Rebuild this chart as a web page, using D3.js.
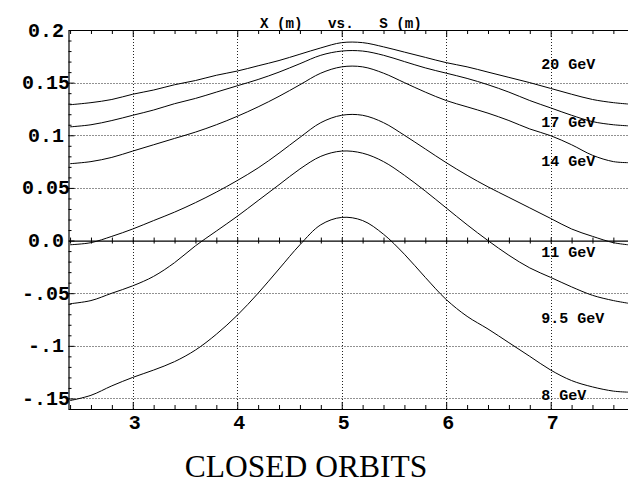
<!DOCTYPE html>
<html>
<head>
<meta charset="utf-8">
<script src="https://cdn.jsdelivr.net/npm/d3@7"></script>
<style>
  html, body { margin: 0; padding: 0; background: #fff; }
  svg { display: block; }
  .mono { font-family: "Liberation Mono", "DejaVu Sans Mono", monospace; font-weight: bold; }
</style>
</head>
<body>
<svg id="chart" width="628" height="485"></svg>
<script>
// Position along the ring, S (m)
const sPos = [2.4, 2.6, 2.8, 3.0, 3.2, 3.4, 3.6, 3.8, 4.0, 4.2, 4.4, 4.6, 4.8, 5.0,
              5.2, 5.4, 5.6, 5.8, 6.0, 6.2, 6.4, 6.6, 6.8, 7.0, 7.2, 7.4, 7.6, 7.74];

// Closed-orbit displacement X (m) for each beam energy
const orbit20 = [0.129, 0.131, 0.134, 0.139, 0.143, 0.148, 0.152, 0.157, 0.161, 0.166, 0.171, 0.177, 0.183, 0.188,
                 0.188, 0.184, 0.179, 0.174, 0.169, 0.165, 0.160, 0.155, 0.150, 0.1445, 0.139, 0.134, 0.131, 0.1297];
const orbit17 = [0.108, 0.110, 0.114, 0.119, 0.124, 0.130, 0.135, 0.141, 0.147, 0.153, 0.160, 0.168, 0.176, 0.180,
                 0.180, 0.176, 0.170, 0.164, 0.159, 0.154, 0.148, 0.141, 0.133, 0.126, 0.119, 0.113, 0.110, 0.109];
const orbit14 = [0.073, 0.075, 0.079, 0.085, 0.091, 0.097, 0.103, 0.110, 0.118, 0.127, 0.137, 0.148, 0.159, 0.165,
                 0.165, 0.159, 0.150, 0.141, 0.133, 0.127, 0.121, 0.114, 0.106, 0.0996, 0.091, 0.081, 0.075, 0.074];
const orbit11 = [-0.004, -0.002, 0.004, 0.011, 0.019, 0.027, 0.036, 0.046, 0.057, 0.069, 0.083, 0.098, 0.112, 0.119,
                 0.119, 0.112, 0.100, 0.087, 0.074, 0.062, 0.051, 0.041, 0.031, 0.021, 0.011, 0.004, -0.002, -0.004];
const orbit9p5 = [-0.060, -0.057, -0.050, -0.043, -0.034, -0.021, -0.005, 0.009, 0.023, 0.038, 0.053, 0.068, 0.080, 0.085,
                  0.083, 0.075, 0.062, 0.047, 0.031, 0.015, 0.000, -0.014, -0.026, -0.035, -0.044, -0.052, -0.057, -0.0595];
const orbit8 = [-0.152, -0.147, -0.138, -0.130, -0.123, -0.115, -0.104, -0.089, -0.071, -0.050, -0.027, -0.004, 0.015, 0.022,
                0.019, 0.006, -0.013, -0.035, -0.056, -0.072, -0.084, -0.097, -0.110, -0.123, -0.133, -0.139, -0.143, -0.144];

const series = [orbit20, orbit17, orbit14, orbit11, orbit9p5, orbit8];

// Energy labels and the X value their baselines sit on
const energyLabels = ["20 GeV", "17 GeV", "14 GeV", "11 GeV", "9.5 GeV", "8 GeV"];
const labelX = [0.163, 0.1075, 0.071, -0.0158, -0.078, -0.151];

// Axis ticks
const xTicks = [3, 4, 5, 6, 7];
const yTicks = [0.2, 0.15, 0.1, 0.05, 0.0, -0.05, -0.1, -0.15];
const yTickLabels = ["0.2", "0.15", "0.1", "0.05", "0.0", "-.05", "-.1", "-.15"];

const titleTop = "X (m)   vs.   S (m)";
const titleBottom = "CLOSED ORBITS";

const svg = d3.select("#chart");
const plotL = 68.5, plotR = 628, plotT = 30, plotB = 409;

const x = d3.scaleLinear().domain([2.385, 7.74]).range([plotL, plotR]);
const y = d3.scaleLinear().domain([-0.16, 0.2]).range([plotB, plotT]);

const xMinor = d3.range(2.4, 7.75, 0.2).map(v => +v.toFixed(2));
const yMinor = d3.range(-0.16, 0.2001, 0.01).map(v => +v.toFixed(3));

// dotted grid
const grid = svg.append("g").attr("stroke", "#222").attr("stroke-width", 1)
  .attr("stroke-dasharray", "1,2").attr("fill", "none");
xTicks.forEach(t => {
  grid.append("line").attr("x1", Math.round(x(t)) + 0.5).attr("x2", Math.round(x(t)) + 0.5)
    .attr("y1", plotT).attr("y2", plotB);
});
yTicks.filter(t => t !== 0 && t !== 0.2).forEach(t => {
  grid.append("line").attr("x1", plotL).attr("x2", plotR)
    .attr("y1", Math.round(y(t)) + 0.5).attr("y2", Math.round(y(t)) + 0.5);
});

// frame axes with inward ticks
function tickLen(v, majors) { return majors.some(m => Math.abs(m - v) < 1e-6) ? 7 : 4; }

const axTop = svg.append("g").attr("transform", `translate(0,${plotT})`)
  .call(d3.axisBottom(x).tickValues(xMinor).tickFormat("").tickSizeOuter(0).tickSizeInner(4));
axTop.selectAll(".tick line").attr("y2", d => tickLen(d, xTicks));

const axBottom = svg.append("g").attr("transform", `translate(0,${plotB})`)
  .call(d3.axisTop(x).tickValues(xMinor).tickFormat("").tickSizeOuter(0).tickSizeInner(4));
axBottom.selectAll(".tick line").attr("y2", d => -tickLen(d, xTicks));

const axLeft = svg.append("g").attr("transform", `translate(${plotL},0)`)
  .call(d3.axisRight(y).tickValues(yMinor).tickFormat("").tickSizeOuter(0).tickSizeInner(3));
axLeft.selectAll(".tick line").attr("x2", d => tickLen(d, yTicks) - 1);

// zero line with ticks on both sides
const axZero = svg.append("g").attr("transform", `translate(0,${y(0)})`)
  .call(d3.axisBottom(x).tickValues(xMinor).tickFormat("").tickSizeOuter(0).tickSizeInner(3));
axZero.selectAll(".tick line").attr("y1", -3).attr("y2", 3);

svg.selectAll(".domain").attr("stroke", "#000").attr("stroke-width", 1.2);
svg.selectAll(".tick line").attr("stroke", "#000");

// orbit curves
svg.append("clipPath").attr("id", "plotArea").append("rect")
  .attr("x", plotL).attr("y", plotT).attr("width", plotR - plotL).attr("height", plotB - plotT);
const line = d3.line().x((d, i) => x(sPos[i])).y(d => y(d)).curve(d3.curveCatmullRom.alpha(0.5));
svg.append("g").attr("clip-path", "url(#plotArea)")
  .selectAll("path").data(series).join("path")
  .attr("d", line).attr("fill", "none").attr("stroke", "#000").attr("stroke-width", 1);

// energy labels
svg.append("g").selectAll("text").data(energyLabels).join("text")
  .attr("class", "mono").attr("x", x(6.9) + 1).attr("y", (d, i) => y(labelX[i]))
  .attr("font-size", 15).attr("fill", "#000").text(d => d);

// tick labels
svg.append("g").selectAll("text").data(yTicks).join("text")
  .attr("class", "mono").attr("x", 46).attr("y", d => y(d) + 6.5)
  .attr("text-anchor", "middle").attr("font-size", 20).text((d, i) => yTickLabels[i]);

svg.append("g").selectAll("text").data(xTicks).join("text")
  .attr("class", "mono").attr("x", d => x(d) + 2).attr("y", 429)
  .attr("text-anchor", "middle").attr("font-size", 20).text(d => d);

// titles
svg.append("text").attr("class", "mono").attr("x", 260).attr("y", 28)
  .attr("font-size", 14.2).style("white-space", "pre").text(titleTop);

svg.append("text").attr("x", 306).attr("y", 477).attr("text-anchor", "middle")
  .attr("font-family", "'Liberation Serif', 'Times New Roman', serif")
  .attr("font-size", 31.5).text(titleBottom);
</script>
</body>
</html>
